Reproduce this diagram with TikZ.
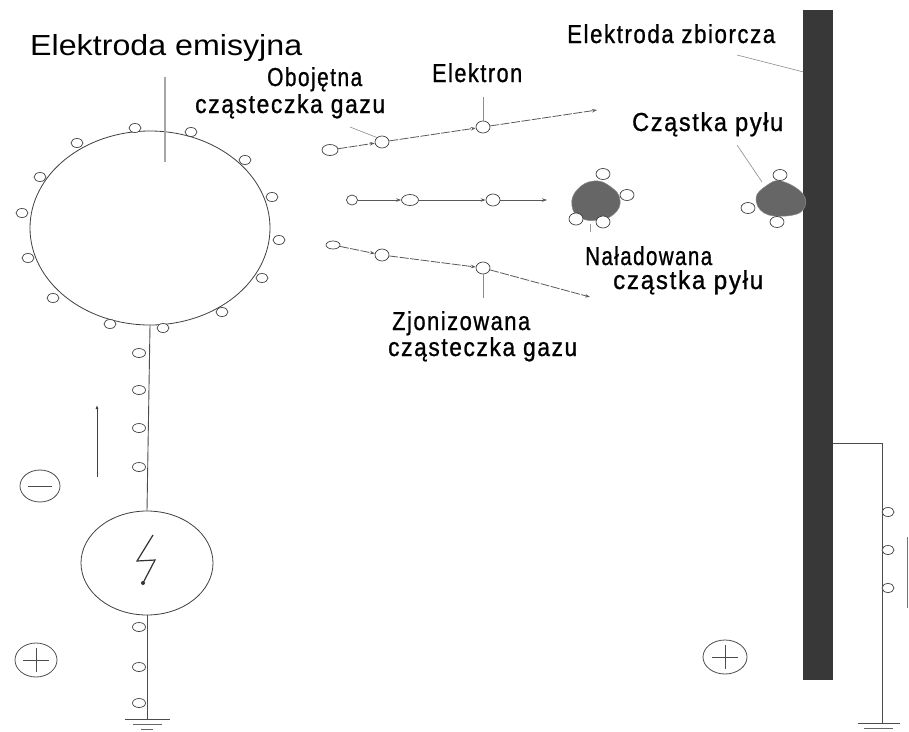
\documentclass[tikz,border=0pt]{standalone}
\usepackage{fontspec}
\setmainfont{Liberation Sans}
\newfontfamily\condf[FakeStretch=0.7,LetterSpace=5,FakeBold=0.8]{Liberation Sans}
\usetikzlibrary{shapes.geometric,arrows.meta,calc}
% narrow label text stretched to a given width (pt)
\newcommand\lbw[2]{\resizebox{#1pt}{\height}{\condf\fontsize{26}{26}\selectfont #2}}

\begin{document}
\begin{tikzpicture}[x=1pt,y=-1pt,
  wire/.style={draw=black!70,line width=0.9pt},
  part/.style={ellipse,draw=black!75,fill=white,line width=0.7pt,inner sep=0pt,minimum width=12pt,minimum height=9pt},
  bigpart/.style={part,minimum width=14pt,minimum height=12pt},
  traj/.style={draw=black!65,line width=0.8pt,dash pattern=on 9pt off 1.5pt},
  tipped/.style={-{Stealth[length=5pt,width=3.5pt]}},
  leader/.style={draw=black!45,line width=0.6pt},
  lbl/.style={inner sep=0pt,anchor=base west,text=black},
  blob/.style={fill=black!60,draw=black!45,line width=0.5pt},
  sign/.style={ellipse,draw=black!70,line width=0.8pt,minimum width=40pt,minimum height=32pt,inner sep=0pt}
]
\useasboundingbox[fill=white] (0,0) rectangle (909,731);

% ---------- emitting electrode ----------
\node[ellipse,draw=black!75,line width=0.8pt,minimum width=240pt,minimum height=194pt,inner sep=0pt] (emit) at (150,228) {};
\foreach \p [count=\i] in {(135,128),(77,143),(40,177),(22,213),(28,258),(53,298),(110,324),(163,328),(222,312),(262,278),(279,240),(272,197),(245,160),(191,132)}
  \node[part] (ep\i) at \p {};

\node[lbl] (title) at (30,55) {\resizebox{272pt}{\height}{\fontsize{29}{29}\selectfont Elektroda emisyjna}};
\coordinate (tt1) at (165,77);
\coordinate (tt2) at (165,162);
\draw[draw=black!35,line width=1.4pt] (tt1) -- (tt2);

% ---------- high-voltage source ----------
\node[ellipse,draw=black!75,line width=0.8pt,minimum width=132pt,minimum height=104pt,inner sep=0pt] (src) at (147,563) {};
\draw[line width=1.2pt,black!80] (153,535) -- (137,561) -- (155,560) -- (143,583);
\fill[black!80] (143,583) circle (2pt);

\coordinate (lgnd) at (147,719);
\draw[wire] (emit.south) -- (src.north);
\draw[wire] (src.south) -- (lgnd);
\foreach \y [count=\i] in {353,390,428,467,627,667,703}
  \node[part,minimum width=13pt,minimum height=9pt] (lw\i) at (139,\y) {};
\draw[black!70,line width=0.9pt] (125,719) -- (170,719);
\draw[black!60,line width=0.9pt] (133,724) -- (162,724);
\draw[black!60,line width=0.9pt] (141,729) -- (153,729);

% electron flow arrow
\coordinate (fa1) at (97,477);
\coordinate (fa2) at (97,405);
\draw[black!75,line width=0.8pt,-{Latex[length=4pt,width=3pt]}] (fa1) -- (fa2);

% polarity marks
\node[sign] (minus) at (40,486) {};
\draw[black!70,line width=0.9pt] ($(minus.center)+(-12,0)$) -- ($(minus.center)+(12,0)$);
\node[sign,minimum width=42pt,minimum height=34pt] (plusl) at (36,660) {};
\draw[black!70,line width=0.9pt] ($(plusl.center)+(-13,0)$) -- ($(plusl.center)+(13,0)$)
  ($(plusl.center)+(0,-12)$) -- ($(plusl.center)+(0,12)$);
\node[sign,minimum width=44pt,minimum height=34pt] (plusr) at (725,657) {};
\draw[black!70,line width=0.9pt] ($(plusr.center)+(-13,0)$) -- ($(plusr.center)+(13,0)$)
  ($(plusr.center)+(0,-12)$) -- ($(plusr.center)+(0,12)$);

% ---------- gas particle trajectories ----------
\node[part,minimum width=16pt,minimum height=11pt] (a1) at (330,150) {};
\node[bigpart] (a2) at (382,142) {};
\node[bigpart] (a3) at (483,127) {};
\coordinate (a4) at (597,110);
\draw[traj,tipped] (a1) -- (a2);
\draw[traj,tipped] (a2) -- (a3);
\draw[traj,tipped] (a3) -- (a4);

\node[part,minimum width=11pt,minimum height=10pt] (b1) at (352,200) {};
\node[part,minimum width=17pt,minimum height=11pt] (b2) at (410,200) {};
\node[bigpart] (b3) at (493,200) {};
\coordinate (b4) at (547,200);
\draw[draw=black!65,line width=0.7pt,tipped] (b1) -- (b2);
\draw[draw=black!65,line width=0.7pt,tipped] (b2) -- (b3);
\draw[draw=black!65,line width=0.7pt,tipped] (b3) -- (b4);

\node[part,minimum width=14pt,minimum height=8pt] (c1) at (333,245) {};
\node[bigpart] (c2) at (382,255) {};
\node[bigpart] (c3) at (483,268) {};
\coordinate (c4) at (590,297);
\draw[traj,tipped] (c1) -- (c2);
\draw[traj,tipped] (c2) -- (c3);
\draw[traj,tipped] (c3) -- (c4);

% labels of the trajectories
\node[lbl] (obo1) at (267,86) {\lbw{95}{Obojętna}};
\node[lbl] (obo2) at (195,113) {\lbw{190}{cząsteczka gazu}};
\coordinate (obol) at (350,127);
\draw[leader] (obol) -- (a2.north west);

\node[lbl] (elek) at (432,82) {\lbw{90}{Elektron}};
\coordinate (elt) at (483,97);
\draw[leader,line width=1pt] (elt) -- (a3.north);

\node[lbl] (zjo1) at (392,330) {\lbw{138}{Zjonizowana}};
\node[lbl] (zjo2) at (388,356) {\lbw{189}{cząsteczka gazu}};
\coordinate (zjt) at (483,298);
\draw[leader,line width=1pt] (c3.south) -- (zjt);

% ---------- charged dust particle ----------
\draw[blob] plot[smooth cycle,tension=0.8] coordinates
  {(572,206) (577,190) (594,181) (611,187) (620,200) (614,214) (598,220) (581,218)};
\node[part,minimum width=14pt,minimum height=11pt] (d1) at (603,174) {};
\node[part,minimum width=14pt,minimum height=11pt] (d2) at (627,195) {};
\node[part,minimum width=14pt,minimum height=12pt] (d3) at (576,219) {};
\node[part,minimum width=14pt,minimum height=12pt] (d4) at (603,222) {};
\draw[black!40,line width=0.6pt] (590,224) -- (590,232);

\node[lbl] (nal1) at (585,265) {\lbw{127}{Naładowana}};
\node[lbl] (nal2) at (613,289) {\lbw{150}{cząstka pyłu}};

% ---------- collecting electrode ----------
\node[fill=black!78,minimum width=30pt,minimum height=670pt,inner sep=0pt] (bar) at (818,345) {};
\node[lbl] (zbi) at (567,43) {\lbw{208}{Elektroda zbiorcza}};
\coordinate (zbl) at (737,55);
\draw[leader] (zbl) -- ($(bar.north west)+(0,62)$);

% dust particle deposited on the electrode
\draw[blob] plot[smooth cycle,tension=0.7] coordinates
  {(756,198) (766,186) (781,181) (803,194) (803,210) (786,216) (764,213)};
\node[part,minimum width=14pt,minimum height=11pt] (e1) at (780,175) {};
\node[part,minimum width=14pt,minimum height=11pt] (e2) at (748,208) {};
\node[part,minimum width=14pt,minimum height=11pt] (e3) at (777,222) {};
\node[lbl] (pyl) at (632,131) {\lbw{151}{Cząstka pyłu}};
\coordinate (pyll) at (737,145);
\draw[leader] (pyll) -- (762,182);

% grounding of the collecting electrode
\coordinate (rwt) at (882,443);
\coordinate (rgnd) at (882,723);
\draw[wire] (bar.east |- rwt) -- (rwt) -- (rgnd);
\foreach \y [count=\i] in {512,550,588}
  \node[part,minimum width=12pt,minimum height=9pt] (rw\i) at (888,\y) {};
\draw[black!70,line width=0.9pt] (858,723) -- (900,723);
\draw[black!60,line width=0.9pt] (864,728) -- (893,728);
\draw[black!55,line width=0.8pt] (907,537) -- (907,608);
\end{tikzpicture}
\end{document}
